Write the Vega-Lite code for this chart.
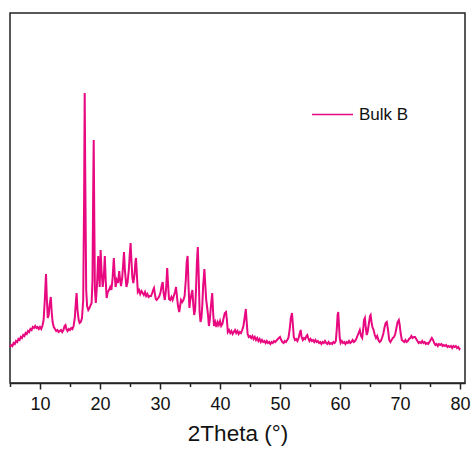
{
  "$schema": "https://vega.github.io/schema/vega-lite/v6.json",
  "width": 455,
  "height": 370,
  "autosize": {"type": "none"},
  "padding": {"left": 10, "top": 13, "right": 9, "bottom": 71},
  "background": "white",
  "config": {
    "view": {"stroke": "#222222", "strokeWidth": 1.5},
    "font": "Liberation Sans"
  },
  "data": {"values": [
{"t":5.0,"i":36},{"t":5.2,"i":38},{"t":5.4,"i":37},{"t":5.6,"i":40},{"t":5.8,"i":39},{"t":6.0,"i":42},{"t":6.2,"i":41},{"t":6.4,"i":44},{"t":6.6,"i":43},{"t":6.8,"i":46},{"t":7.0,"i":45},{"t":7.2,"i":48},{"t":7.4,"i":47},{"t":7.6,"i":50},{"t":7.8,"i":49},{"t":8.0,"i":52},{"t":8.2,"i":51},{"t":8.4,"i":54},{"t":8.6,"i":53},{"t":8.8,"i":56},{"t":9.0,"i":55},{"t":9.2,"i":57},{"t":9.4,"i":55},{"t":9.6,"i":56},{"t":9.8,"i":54},{"t":10.0,"i":56},{"t":10.2,"i":54},{"t":10.4,"i":57},{"t":10.6,"i":63},{"t":10.8,"i":83},{"t":11.0,"i":109},{"t":11.15,"i":83},{"t":11.3,"i":65},{"t":11.45,"i":68},{"t":11.6,"i":78},{"t":11.8,"i":86},{"t":11.95,"i":71},{"t":12.1,"i":61},{"t":12.3,"i":56},{"t":12.5,"i":54},{"t":12.7,"i":52},{"t":12.9,"i":53},{"t":13.1,"i":51},{"t":13.3,"i":52},{"t":13.5,"i":53},{"t":13.7,"i":51},{"t":13.9,"i":53},{"t":14.1,"i":57},{"t":14.25,"i":58},{"t":14.4,"i":54},{"t":14.6,"i":52},{"t":14.8,"i":54},{"t":15.0,"i":53},{"t":15.2,"i":55},{"t":15.4,"i":54},{"t":15.6,"i":57},{"t":15.8,"i":65},{"t":16.0,"i":83},{"t":16.1,"i":90},{"t":16.25,"i":73},{"t":16.45,"i":63},{"t":16.6,"i":60},{"t":16.8,"i":61},{"t":17.0,"i":65},{"t":17.2,"i":83},{"t":17.35,"i":183},{"t":17.45,"i":290},{"t":17.55,"i":203},{"t":17.7,"i":93},{"t":17.85,"i":77},{"t":18.05,"i":73},{"t":18.25,"i":75},{"t":18.45,"i":78},{"t":18.6,"i":80},{"t":18.75,"i":103},{"t":18.85,"i":183},{"t":18.95,"i":243},{"t":19.05,"i":163},{"t":19.15,"i":93},{"t":19.3,"i":80},{"t":19.5,"i":98},{"t":19.7,"i":127},{"t":19.85,"i":108},{"t":19.95,"i":96},{"t":20.1,"i":133},{"t":20.25,"i":113},{"t":20.45,"i":96},{"t":20.65,"i":108},{"t":20.8,"i":127},{"t":20.95,"i":103},{"t":21.1,"i":85},{"t":21.3,"i":91},{"t":21.5,"i":93},{"t":21.7,"i":96},{"t":21.9,"i":93},{"t":22.1,"i":105},{"t":22.3,"i":125},{"t":22.45,"i":108},{"t":22.6,"i":96},{"t":22.8,"i":103},{"t":23.0,"i":100},{"t":23.2,"i":112},{"t":23.35,"i":103},{"t":23.5,"i":97},{"t":23.7,"i":105},{"t":23.85,"i":118},{"t":24.0,"i":131},{"t":24.15,"i":113},{"t":24.4,"i":96},{"t":24.6,"i":101},{"t":24.8,"i":113},{"t":24.95,"i":128},{"t":25.1,"i":140},{"t":25.25,"i":121},{"t":25.4,"i":105},{"t":25.55,"i":100},{"t":25.75,"i":108},{"t":25.9,"i":121},{"t":26.0,"i":125},{"t":26.15,"i":108},{"t":26.3,"i":91},{"t":26.5,"i":93},{"t":26.7,"i":89},{"t":26.9,"i":92},{"t":27.1,"i":90},{"t":27.3,"i":88},{"t":27.5,"i":91},{"t":27.7,"i":87},{"t":27.9,"i":89},{"t":28.1,"i":86},{"t":28.3,"i":87},{"t":28.5,"i":87},{"t":28.7,"i":90},{"t":28.85,"i":93},{"t":29.0,"i":95},{"t":29.15,"i":89},{"t":29.3,"i":84},{"t":29.45,"i":83},{"t":29.7,"i":85},{"t":29.9,"i":87},{"t":30.1,"i":91},{"t":30.3,"i":98},{"t":30.45,"i":101},{"t":30.6,"i":90},{"t":30.8,"i":83},{"t":31.0,"i":93},{"t":31.2,"i":115},{"t":31.35,"i":98},{"t":31.5,"i":84},{"t":31.7,"i":83},{"t":31.9,"i":86},{"t":32.1,"i":83},{"t":32.3,"i":87},{"t":32.5,"i":91},{"t":32.67,"i":96},{"t":32.85,"i":85},{"t":33.0,"i":77},{"t":33.2,"i":71},{"t":33.35,"i":77},{"t":33.5,"i":83},{"t":33.7,"i":81},{"t":33.9,"i":83},{"t":34.1,"i":87},{"t":34.3,"i":103},{"t":34.45,"i":121},{"t":34.6,"i":127},{"t":34.75,"i":98},{"t":34.9,"i":75},{"t":35.05,"i":83},{"t":35.25,"i":89},{"t":35.4,"i":93},{"t":35.55,"i":78},{"t":35.7,"i":68},{"t":35.85,"i":73},{"t":36.0,"i":93},{"t":36.15,"i":121},{"t":36.3,"i":136},{"t":36.45,"i":108},{"t":36.6,"i":71},{"t":36.75,"i":61},{"t":36.9,"i":65},{"t":37.05,"i":78},{"t":37.2,"i":98},{"t":37.4,"i":114},{"t":37.55,"i":98},{"t":37.7,"i":83},{"t":37.85,"i":76},{"t":38.0,"i":68},{"t":38.15,"i":57},{"t":38.3,"i":63},{"t":38.5,"i":78},{"t":38.7,"i":90},{"t":38.85,"i":71},{"t":39.0,"i":57},{"t":39.2,"i":61},{"t":39.4,"i":56},{"t":39.6,"i":61},{"t":39.8,"i":58},{"t":40.0,"i":62},{"t":40.2,"i":57},{"t":40.4,"i":59},{"t":40.6,"i":65},{"t":40.8,"i":70},{"t":41.0,"i":71},{"t":41.15,"i":63},{"t":41.3,"i":51},{"t":41.5,"i":53},{"t":41.7,"i":50},{"t":41.9,"i":52},{"t":42.1,"i":49},{"t":42.3,"i":51},{"t":42.5,"i":53},{"t":42.7,"i":50},{"t":42.9,"i":52},{"t":43.1,"i":49},{"t":43.3,"i":51},{"t":43.5,"i":50},{"t":43.7,"i":53},{"t":43.9,"i":57},{"t":44.1,"i":65},{"t":44.3,"i":74},{"t":44.45,"i":61},{"t":44.6,"i":49},{"t":44.8,"i":46},{"t":45.0,"i":47},{"t":45.2,"i":45},{"t":45.4,"i":47},{"t":45.6,"i":44},{"t":45.8,"i":46},{"t":46.0,"i":43},{"t":46.2,"i":45},{"t":46.4,"i":42},{"t":46.6,"i":44},{"t":46.8,"i":41},{"t":47.0,"i":43},{"t":47.2,"i":41},{"t":47.4,"i":42},{"t":47.6,"i":40},{"t":47.8,"i":42},{"t":48.0,"i":40},{"t":48.2,"i":41},{"t":48.4,"i":39},{"t":48.6,"i":41},{"t":48.8,"i":40},{"t":49.0,"i":42},{"t":49.2,"i":41},{"t":49.5,"i":43},{"t":49.8,"i":45},{"t":50.0,"i":46},{"t":50.2,"i":43},{"t":50.4,"i":41},{"t":50.6,"i":40},{"t":50.8,"i":42},{"t":51.0,"i":41},{"t":51.2,"i":43},{"t":51.4,"i":45},{"t":51.6,"i":53},{"t":51.8,"i":65},{"t":52.0,"i":70},{"t":52.15,"i":58},{"t":52.3,"i":46},{"t":52.5,"i":43},{"t":52.7,"i":44},{"t":52.9,"i":42},{"t":53.1,"i":45},{"t":53.3,"i":50},{"t":53.45,"i":53},{"t":53.6,"i":46},{"t":53.8,"i":43},{"t":54.0,"i":45},{"t":54.2,"i":44},{"t":54.4,"i":47},{"t":54.55,"i":48},{"t":54.7,"i":45},{"t":54.9,"i":42},{"t":55.1,"i":44},{"t":55.3,"i":42},{"t":55.5,"i":43},{"t":55.7,"i":41},{"t":55.9,"i":43},{"t":56.1,"i":41},{"t":56.3,"i":42},{"t":56.5,"i":40},{"t":56.7,"i":41},{"t":56.9,"i":39},{"t":57.1,"i":41},{"t":57.3,"i":40},{"t":57.5,"i":42},{"t":57.7,"i":40},{"t":57.9,"i":39},{"t":58.1,"i":41},{"t":58.3,"i":39},{"t":58.5,"i":40},{"t":58.7,"i":39},{"t":58.9,"i":41},{"t":59.1,"i":40},{"t":59.3,"i":42},{"t":59.45,"i":53},{"t":59.6,"i":68},{"t":59.7,"i":71},{"t":59.8,"i":61},{"t":59.95,"i":45},{"t":60.1,"i":40},{"t":60.3,"i":42},{"t":60.5,"i":40},{"t":60.7,"i":41},{"t":60.9,"i":39},{"t":61.1,"i":41},{"t":61.3,"i":40},{"t":61.5,"i":42},{"t":61.7,"i":40},{"t":61.9,"i":41},{"t":62.1,"i":43},{"t":62.3,"i":41},{"t":62.5,"i":42},{"t":62.7,"i":44},{"t":62.9,"i":47},{"t":63.1,"i":50},{"t":63.3,"i":53},{"t":63.5,"i":47},{"t":63.7,"i":45},{"t":63.85,"i":53},{"t":64.0,"i":63},{"t":64.15,"i":65},{"t":64.3,"i":55},{"t":64.45,"i":48},{"t":64.6,"i":51},{"t":64.8,"i":59},{"t":65.0,"i":67},{"t":65.1,"i":68},{"t":65.25,"i":61},{"t":65.4,"i":56},{"t":65.6,"i":53},{"t":65.8,"i":48},{"t":66.0,"i":45},{"t":66.2,"i":47},{"t":66.4,"i":43},{"t":66.6,"i":41},{"t":66.8,"i":42},{"t":67.0,"i":45},{"t":67.2,"i":49},{"t":67.4,"i":55},{"t":67.6,"i":60},{"t":67.8,"i":61},{"t":68.0,"i":53},{"t":68.2,"i":43},{"t":68.4,"i":41},{"t":68.6,"i":43},{"t":68.8,"i":45},{"t":69.0,"i":46},{"t":69.2,"i":49},{"t":69.4,"i":55},{"t":69.6,"i":61},{"t":69.8,"i":63},{"t":69.95,"i":58},{"t":70.1,"i":50},{"t":70.3,"i":43},{"t":70.5,"i":42},{"t":70.7,"i":41},{"t":70.9,"i":43},{"t":71.1,"i":41},{"t":71.3,"i":42},{"t":71.5,"i":44},{"t":71.7,"i":45},{"t":71.9,"i":47},{"t":72.1,"i":45},{"t":72.3,"i":46},{"t":72.5,"i":46},{"t":72.7,"i":44},{"t":72.9,"i":42},{"t":73.1,"i":40},{"t":73.3,"i":41},{"t":73.5,"i":40},{"t":73.7,"i":42},{"t":73.9,"i":40},{"t":74.1,"i":41},{"t":74.3,"i":39},{"t":74.5,"i":40},{"t":74.7,"i":39},{"t":74.9,"i":41},{"t":75.1,"i":43},{"t":75.3,"i":45},{"t":75.5,"i":43},{"t":75.7,"i":40},{"t":75.9,"i":38},{"t":76.1,"i":39},{"t":76.3,"i":37},{"t":76.5,"i":39},{"t":76.7,"i":38},{"t":76.9,"i":39},{"t":77.1,"i":37},{"t":77.3,"i":38},{"t":77.5,"i":37},{"t":77.7,"i":38},{"t":77.9,"i":36},{"t":78.1,"i":37},{"t":78.3,"i":36},{"t":78.5,"i":37},{"t":78.7,"i":35},{"t":78.9,"i":37},{"t":79.1,"i":36},{"t":79.3,"i":37},{"t":79.5,"i":35},{"t":79.7,"i":36},{"t":79.9,"i":34},{"t":80.0,"i":35}
  ]},
  "transform": [{"calculate": "'Bulk B'", "as": "s"}],
  "mark": {"type": "line", "strokeWidth": 2, "interpolate": "linear"},
  "encoding": {
    "x": {
      "field": "t", "type": "quantitative",
      "scale": {"domain": [5, 80.83], "nice": false, "zero": false},
      "axis": {
        "values": [5, 10, 15, 20, 25, 30, 35, 40, 45, 50, 55, 60, 65, 70, 75, 80],
        "labelExpr": "datum.value % 10 === 0 ? datum.label : ''",
        "title": "2Theta (°)",
        "grid": false,
        "domainColor": "#222222", "domainWidth": 1.5,
        "tickColor": "#222222", "tickWidth": 1.5,
        "tickSize": {"condition": {"test": "datum.value % 10 === 0", "value": 6}, "value": 3.5},
        "labelFont": "Liberation Sans", "labelFontSize": 18, "labelColor": "#111111",
        "labelPadding": 6, "labelFlush": false, "labelOverlap": false,
        "titleFont": "Liberation Sans", "titleFontSize": 22.5, "titleFontWeight": "normal",
        "titleColor": "#111111", "titlePadding": 9
      }
    },
    "y": {
      "field": "i", "type": "quantitative",
      "scale": {"domain": [0, 370], "nice": false, "zero": false},
      "axis": null
    },
    "color": {
      "field": "s", "type": "nominal",
      "scale": {"range": ["#e8087f"]},
      "legend": {
        "title": null, "orient": "none", "legendX": 301, "legendY": 80,
        "symbolType": "stroke", "symbolSize": 1681, "symbolStrokeWidth": 1.6,
        "labelFont": "Liberation Sans", "labelFontSize": 17, "labelColor": "#111111",
        "labelOffset": 5, "padding": 0
      }
    }
  }
}
